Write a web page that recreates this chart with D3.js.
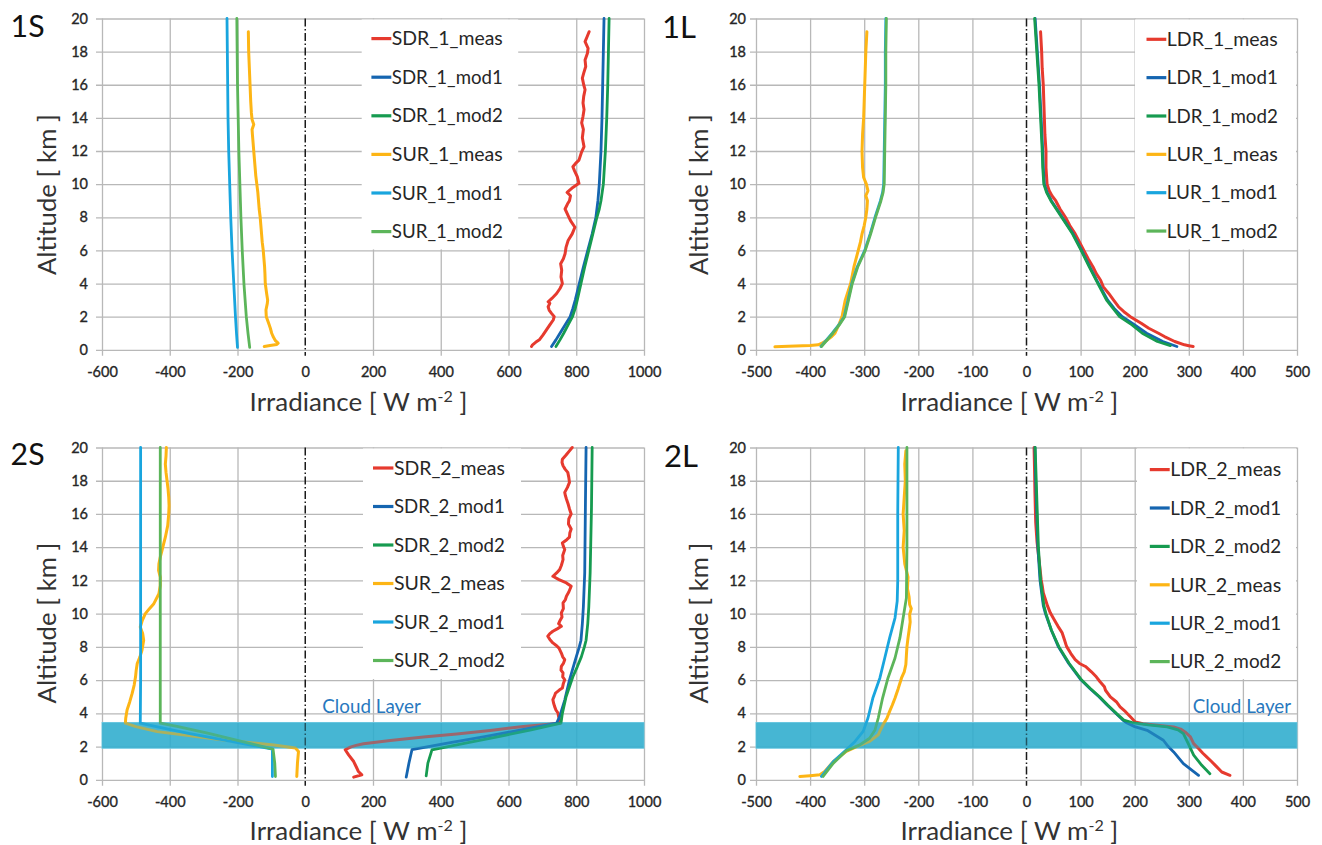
<!DOCTYPE html>
<html><head><meta charset="utf-8">
<script src="https://cdn.jsdelivr.net/npm/d3@7"></script>
<style>
body{margin:0;background:#fff;}
svg{display:block;font-family:Lato,'Noto Sans',sans-serif;}
</style></head><body>
<svg id="chart" width="1322" height="845"></svg>
<script>
// ---------- tick values ----------
const altitudeTicks = [0,2,4,6,8,10,12,14,16,18,20];
const swTicks = [-600,-400,-200,0,200,400,600,800,1000];
const lwTicks = [-500,-400,-300,-200,-100,0,100,200,300,400,500];

// ---------- series names ----------
const names1S = ["SDR_1_meas","SDR_1_mod1","SDR_1_mod2","SUR_1_meas","SUR_1_mod1","SUR_1_mod2"];
const names1L = ["LDR_1_meas","LDR_1_mod1","LDR_1_mod2","LUR_1_meas","LUR_1_mod1","LUR_1_mod2"];
const names2S = ["SDR_2_meas","SDR_2_mod1","SDR_2_mod2","SUR_2_meas","SUR_2_mod1","SUR_2_mod2"];
const names2L = ["LDR_2_meas","LDR_2_mod1","LDR_2_mod2","LUR_2_meas","LUR_2_mod1","LUR_2_mod2"];
const seriesColors = ["#e63a2e","#1565b0","#169b50","#fdb515","#19a5de","#5cb55a"];

// ---------- data: [altitude km, irradiance W m-2] ----------
// Panel 1S
const sdr1Meas = [[0.2,668],[0.3,671],[0.45,680],[0.6,691],[0.9,702],[1.2,712],[1.5,722],[1.8,732],[2.0,735],[2.2,727],[2.4,720],[2.6,717],[2.8,722],[2.9,717],[3.1,728],[3.4,742],[3.7,752],[4.0,759],[4.4,755],[4.8,757],[5.2,754],[5.5,762],[5.8,767],[6.2,770],[6.6,776],[7.0,788],[7.4,796],[7.8,783],[8.1,776],[8.5,767],[8.8,774],[9.0,780],[9.3,783],[9.5,773],[9.8,790],[10.05,808],[10.45,803],[10.8,795],[11.05,790],[11.25,798],[11.45,808],[11.9,815],[12.26,823],[12.8,818],[13.3,821],[13.7,816],[14.1,820],[14.5,823],[14.9,820],[15.3,822],[15.7,826],[16.0,822],[16.4,818],[16.7,822],[17.1,828],[17.5,826],[17.9,833],[18.2,835],[18.6,826],[18.9,832],[19.2,838]];
const sdr1Mod1 = [[0.2,727],[0.6,740],[1.0,752],[1.5,767],[2.0,782],[2.5,790],[3.0,797],[4.0,809],[5.0,821],[6.0,834],[7.0,847],[8.0,858],[9.0,864],[10.0,868],[12.0,873],[14.0,876],[16.0,878],[18.0,880],[20.0,882]];
const sdr1Mod2 = [[0.2,740],[0.6,752],[1.0,763],[1.5,776],[2.0,789],[2.5,797],[3.0,803],[4.0,814],[5.0,825],[6.0,837],[7.0,849],[8.0,861],[8.5,868],[9.0,873],[10.0,880],[12.0,886],[14.0,890],[16.0,893],[18.0,895],[20.0,897]];
const sur1Meas = [[0.2,-121],[0.26,-104],[0.32,-84],[0.4,-80],[0.55,-88],[0.8,-95],[1.0,-99],[1.3,-103],[1.6,-108],[2.0,-115],[2.4,-116],[2.8,-112],[3.0,-111],[3.4,-114],[4.0,-118],[4.6,-119],[5.0,-120],[5.5,-122],[6.0,-124],[6.5,-127],[7.0,-129],[7.5,-131],[8.0,-133],[8.5,-136],[9.0,-138],[9.5,-140],[10.0,-143],[10.5,-146],[11.0,-148],[11.5,-150],[12.0,-152],[12.5,-154],[13.0,-156],[13.3,-157],[13.6,-152],[13.9,-157],[14.3,-159],[15.0,-161],[16.0,-163],[17.0,-165],[18.0,-167],[19.2,-168]];
const sur1Mod1 = [[0.15,-200],[1,-203],[2,-206],[4,-211],[6,-216],[8,-220],[10,-223],[12,-226],[14,-228],[16,-229],[18,-230],[20,-231]];
const sur1Mod2 = [[0.15,-164],[1,-169],[2,-174],[4,-181],[6,-186],[8,-190],[10,-193],[12,-196],[14,-198],[16,-200],[18,-201],[20,-202]];

// Panel 1L
const ldr1Meas = [[0.2,308],[0.25,300],[0.3,292],[0.5,274],[0.8,255],[1.0,244],[1.3,226],[1.6,212],[2.0,192],[2.3,180],[2.6,170],[3.0,161],[3.4,152],[3.8,142],[4.2,137],[4.6,129],[5.0,123],[5.5,114],[6.0,106],[6.5,98],[7.0,90],[7.5,80],[8.0,72],[8.5,62],[9.0,54],[9.3,47],[9.6,42],[10.0,38],[10.5,37],[11,36],[12,36],[13,34],[14,33],[15,32],[16,31],[17,29],[18,28],[19.2,26]];
const ldr1Mod1 = [[0.2,278],[0.5,252],[1.0,222],[1.5,200],[2.0,177],[2.5,162],[3.0,150],[4.0,133],[5.0,117],[6.0,102],[7.0,86],[8.0,66],[9.0,46],[9.5,38],[10.0,33],[11,31],[12,30],[14,27],[16,24],[18,20],[20,16]];
const ldr1Mod2 = [[0.25,266],[0.5,242],[1.0,214],[1.5,195],[2.0,172],[2.5,160],[3.0,148],[4.0,132],[5.0,116],[6.0,101],[7.0,85],[8.0,65],[9.0,45],[9.5,37],[10.0,32],[11,30],[12,29],[14,26],[16,23],[18,19],[20,15]];
const lur1Meas = [[0.18,-465],[0.22,-440],[0.26,-400],[0.3,-385],[0.4,-378],[0.6,-368],[0.8,-360],[1.0,-354],[1.5,-347],[2.0,-341],[2.5,-338],[3.0,-335],[3.5,-330],[4.0,-325],[4.5,-322],[5.0,-319],[5.5,-315],[6.0,-311],[6.5,-307],[7.0,-304],[7.5,-300],[8.0,-297],[8.5,-295],[9.0,-294],[9.3,-297],[9.6,-293],[10.0,-296],[10.4,-301],[11.0,-303],[12.0,-304],[13.0,-303],[14.0,-301],[15.0,-300],[16.0,-299],[17.0,-298],[18.0,-297],[19.2,-295]];
const lur1Mod1 = [[0.2,-380],[0.5,-372],[1.0,-359],[1.5,-347],[2.0,-337],[3.0,-330],[4.0,-323],[5.0,-313],[6.0,-299],[7.0,-289],[8.0,-280],[9.0,-270],[9.5,-266],[10.0,-264],[12,-263],[14,-262],[16,-261],[18,-261],[20,-260]];
const lur1Mod2 = [[0.2,-379],[0.5,-371],[1.0,-358],[1.5,-346],[2.0,-336],[3.0,-329],[4.0,-322],[5.0,-312],[6.0,-298],[7.0,-288],[8.0,-279],[9.0,-269],[9.5,-265],[10.0,-263],[12,-262],[14,-261],[16,-260],[18,-260],[20,-259]];

// Panel 2S
const sdr2Meas = [[0.16,143],[0.3,167],[0.5,157],[0.8,150],[1.1,143],[1.5,128],[1.81,118],[1.97,133],[2.07,150],[2.17,172],[2.37,251],[2.57,349],[2.75,447],[2.97,546],[3.21,644],[3.35,720],[3.41,752],[3.61,751],[3.8,748],[4.02,746],[4.2,740],[4.42,736],[4.62,733],[4.82,731],[5.0,735],[5.22,739],[5.4,750],[5.52,759],[5.8,762],[6.02,766],[6.2,760],[6.43,761],[6.6,755],[6.83,756],[7.0,762],[7.23,766],[7.4,760],[7.63,756],[7.93,749],[8.1,740],[8.24,731],[8.45,722],[8.64,716],[8.8,722],[8.94,731],[9.1,745],[9.24,756],[9.4,748],[9.54,751],[9.8,758],[10.04,756],[10.3,762],[10.65,761],[10.85,768],[11.05,771],[11.3,778],[11.65,785],[11.85,771],[12.05,749],[12.25,731],[12.45,742],[12.65,751],[12.9,756],[13.25,761],[13.5,760],[13.86,766],[14.05,762],[14.25,759],[14.45,772],[14.6,780],[14.85,781],[15.1,785],[15.4,777],[15.7,778],[16.0,785],[16.3,780],[16.6,776],[16.9,771],[17.1,768],[17.3,766],[17.6,774],[17.9,780],[18.2,778],[18.5,775],[18.7,767],[18.9,761],[19.1,758],[19.3,759],[19.55,770],[19.8,780],[20,788]];
const sdr2Mod1 = [[0.16,298],[1.0,306],[1.81,315],[2.2,420],[2.6,530],[3.0,637],[3.41,742],[3.8,751],[4.8,766],[6.0,780],[6.7,790],[7.4,800],[8.0,809],[8.4,814],[9.4,818],[10.4,821],[12.45,825],[16.4,827],[20,829]];
const sdr2Mod2 = [[0.24,357],[1.0,362],[1.8,374],[2.2,473],[2.6,571],[3.0,667],[3.41,755],[4.0,759],[5.0,770],[6.2,790],[6.8,803],[7.4,815],[8.0,824],[8.4,829],[9.4,834],[10.4,837],[12.45,841],[16.4,845],[20,847]];
const sur2Meas = [[0.2,-25],[1.0,-23],[1.7,-20],[1.91,-29],[2.1,-93],[2.4,-241],[2.9,-437],[3.2,-500],[3.41,-531],[3.7,-530],[4.2,-526],[4.7,-518],[5.2,-511],[5.7,-505],[6.2,-501],[6.6,-499],[7.0,-496],[7.4,-488],[7.8,-482],[8.4,-477],[8.8,-480],[9.2,-487],[9.6,-481],[10.0,-472],[10.3,-460],[10.6,-447],[11.2,-432],[11.7,-428],[12.2,-428],[12.6,-433],[13.0,-432],[13.4,-428],[13.8,-423],[14.2,-418],[14.6,-413],[15.3,-406],[16.0,-403],[16.5,-402],[17.0,-403],[17.5,-405],[18.0,-408],[18.5,-411],[19.0,-413],[19.5,-411],[20,-410]];
const sur2Mod1 = [[0.2,-97],[1.0,-97],[1.85,-97],[2.3,-215],[2.8,-345],[3.2,-440],[3.41,-487],[6,-486],[10,-486],[14,-486],[20,-486]];
const sur2Mod2 = [[0.2,-88],[1.0,-90],[1.85,-95],[2.3,-185],[2.8,-285],[3.2,-375],[3.41,-428],[10,-428],[20,-428]];

// Panel 2L
const ldr2Meas = [[0.27,376],[0.47,361],[0.87,349],[1.1,342],[1.38,333],[1.6,326],[1.88,318],[2.18,309],[2.58,303],[2.88,293],[3.05,285],[3.18,272],[3.28,241],[3.38,215],[3.48,201],[3.79,192],[4.1,183],[4.39,173],[4.7,166],[4.99,155],[5.39,146],[5.6,144],[5.9,136],[6.2,129],[6.5,120],[6.82,109],[7.0,98],[7.23,90],[7.6,82],[8.03,74],[8.44,70],[8.84,66],[9.25,58],[9.65,51],[10.05,44],[10.45,39],[10.85,35],[11.26,31],[11.7,29],[12.07,27],[13,24],[14.3,19.5],[15.5,17],[17.3,15.6],[18.5,15],[20,14]];
const ldr2Mod1 = [[0.27,318],[0.97,290],[1.68,272],[2.0,262],[2.38,253],[2.98,223],[3.2,200],[3.42,186],[3.6,178],[4.0,165],[4.5,149],[5.0,134],[5.5,117],[6.0,101],[7.0,78],[8.0,59],[9.0,46],[10.0,35],[10.5,31],[11,29],[12,25],[14,21],[16,19],[18,17],[20,15.6]];
const ldr2Mod2 = [[0.37,339],[0.87,324],[1.48,309],[2.18,299],[2.78,290],[3.0,280],[3.18,260],[3.3,225],[3.42,198],[3.59,180],[4.0,166],[4.5,150],[5.0,135],[5.5,118],[6.0,102],[7.0,79],[8.0,60],[9.0,46],[10.0,36],[10.5,32],[11,30],[12,26],[14,22],[16,20],[18,18],[20,16]];
const lur2Meas = [[0.2,-419],[0.25,-400],[0.3,-382],[0.5,-373],[1.1,-357],[1.71,-333],[2.0,-314],[2.31,-290],[2.71,-274],[3.0,-270],[3.32,-265],[3.7,-258],[4.12,-253],[4.5,-248],[4.92,-243],[5.5,-237],[6.13,-231],[6.5,-226],[6.94,-223],[7.5,-222],[8.0,-221],[8.54,-219],[9.0,-217],[9.5,-215],[9.95,-216],[10.3,-213],[10.55,-216],[11,-217],[11.5,-220],[12.2,-219],[13,-225],[14,-228],[15,-226],[16,-228],[17,-226],[18,-224],[19,-225],[19.8,-223]];
const lur2Mod1 = [[0.2,-379],[1.1,-357],[1.81,-333],[2.31,-317],[2.91,-302],[3.72,-293],[4.92,-284],[6.13,-271],[7.33,-262],[8.54,-253],[9.75,-243],[10.75,-239],[12,-238],[16,-238],[20,-237]];
const lur2Mod2 = [[0.2,-376],[1.0,-357],[1.75,-333],[2.1,-308],[2.5,-290],[3.0,-280],[3.72,-274],[4.92,-266],[6.13,-256],[7.33,-243],[8.54,-234],[9.75,-228],[10.95,-222],[14,-221],[20,-221]];

// cloud layer altitudes (km)
const cloudLayer = [1.9, 3.45];

// ---------- layout ----------
const panels = [
  {tag:"1S", xDomain:[-600,1000], xTicks:swTicks, names:names1S,
   series:[sdr1Meas,sdr1Mod1,sdr1Mod2,sur1Meas,sur1Mod1,sur1Mod2], cloud:false,
   box:{left:102,right:644,top:18.5,bottom:349.8}, labelPad:8,
   legend:{x0:361.7,x1:518.2,line0:371.4,line1:391.3,row0:38.6,step:38.6},
   tagPos:[10.6,37], xTitle:[358.5,411], yTitle:[56,194.6]},
  {tag:"1L", xDomain:[-500,500], xTicks:lwTicks, names:names1L,
   series:[ldr1Meas,ldr1Mod1,ldr1Mod2,lur1Meas,lur1Mod1,lur1Mod2], cloud:false,
   box:{left:756,right:1297,top:18.5,bottom:349.8}, labelPad:4,
   legend:{x0:1135,x1:1296,line0:1146.5,line1:1166.3,row0:39.3,step:38.35},
   tagPos:[662,37.6], xTitle:[1009.4,411], yTitle:[708,194.6]},
  {tag:"2S", xDomain:[-600,1000], xTicks:swTicks, names:names2S,
   series:[sdr2Meas,sdr2Mod1,sdr2Mod2,sur2Meas,sur2Mod1,sur2Mod2], cloud:true, cloudText:[322.3,713.3],
   box:{left:102,right:644,top:447.5,bottom:779.8}, labelPad:8,
   legend:{x0:363,x1:521,line0:373,line1:393.4,row0:468,step:38.5},
   tagPos:[10.6,465.3], xTitle:[358.5,840], yTitle:[56,623]},
  {tag:"2L", xDomain:[-500,500], xTicks:lwTicks, names:names2L,
   series:[ldr2Meas,ldr2Mod1,ldr2Mod2,lur2Meas,lur2Mod1,lur2Mod2], cloud:true, cloudText:[1192.7,712.7],
   box:{left:756,right:1297,top:447.5,bottom:779.8}, labelPad:4,
   legend:{x0:1137,x1:1296,line0:1149.8,line1:1169.7,row0:469.6,step:38.4},
   tagPos:[664,467], xTitle:[1009.4,840], yTitle:[708,623]}
];

const svg = d3.select("#chart");
const gridColor = "#b8b8b8";
const TL = 6;
const bandColor = "rgb(45,173,206)";

function fitWidth(sel, target){
  const w = sel.node().getComputedTextLength();
  const fs = parseFloat(sel.attr("font-size"));
  if (w > 0) sel.attr("font-size", fs * target / w);
  return sel;
}

function styleTicks(sel){
  sel.attr("font-size",14.5).attr("fill","#262626").attr("font-family","Lato")
    .attr("stroke","#262626").attr("stroke-width",0.35);
}

function drawPanel(p){
  const b = p.box;
  const x = d3.scaleLinear().domain(p.xDomain).range([b.left, b.right]);
  const y = d3.scaleLinear().domain([0,20]).range([b.bottom, b.top]);
  const g = svg.append("g");

  // vertical grid + x tick labels
  const xa = g.append("g").attr("transform", `translate(0,${b.bottom+TL})`)
    .call(d3.axisBottom(x).tickValues(p.xTicks).tickSize(-(b.bottom-b.top+TL)).tickPadding(11).tickFormat(d=>String(d)));
  xa.select(".domain").remove();
  xa.selectAll(".tick line").attr("stroke", d => d===0 ? "none" : gridColor).attr("stroke-width",1.3);
  styleTicks(xa.selectAll(".tick text"));

  // horizontal grid + y tick labels
  const ya = g.append("g").attr("transform", `translate(${b.left-TL},0)`)
    .call(d3.axisLeft(y).tickValues(altitudeTicks).tickSize(-(b.right-b.left+TL)).tickPadding(p.labelPad).tickFormat(d=>String(d)));
  ya.select(".domain").remove();
  ya.selectAll(".tick line").attr("stroke", gridColor).attr("stroke-width",1.3);
  styleTicks(ya.selectAll(".tick text"));

  // legend background (covers gridlines)
  const L = p.legend;
  g.append("rect").attr("x",L.x0).attr("y",b.top+1).attr("width",L.x1-L.x0).attr("height",y(6)-1-(b.top+1)).attr("fill","#fff");

  // cloud band base
  if (p.cloud){
    g.append("rect").attr("x",b.left).attr("width",b.right-b.left)
      .attr("y",y(cloudLayer[1])).attr("height",y(cloudLayer[0])-y(cloudLayer[1]))
      .attr("fill",bandColor).attr("fill-opacity",0.8)
      .attr("stroke","rgb(120,205,228)").attr("stroke-width",1);
  }

  // zero line (dash-dot)
  g.append("line").attr("x1",x(0)).attr("x2",x(0)).attr("y1",b.top).attr("y2",b.bottom+TL)
    .attr("stroke","#1a1a1a").attr("stroke-width",1.5).attr("stroke-dasharray","8,2.5,1.5,2.5");

  // series lines
  const line = d3.line().x(d=>x(d[1])).y(d=>y(d[0])).curve(d3.curveLinear);
  p.series.forEach((s,i)=>{
    g.append("path").datum(s).attr("d",line).attr("fill","none")
      .attr("stroke",seriesColors[i]).attr("stroke-width", (i===0||i===3)?3:2.8)
      .attr("stroke-linejoin","round").attr("stroke-linecap","round");
  });

  // cloud band overlay (tints lines inside band)
  if (p.cloud){
    g.append("rect").attr("x",b.left).attr("width",b.right-b.left)
      .attr("y",y(cloudLayer[1])).attr("height",y(cloudLayer[0])-y(cloudLayer[1]))
      .attr("fill",bandColor).attr("fill-opacity",0.4);
    const ct = g.append("text").attr("x",p.cloudText[0]).attr("y",p.cloudText[1])
      .attr("font-size",17).attr("fill","#2878be").attr("font-family","Lato").text("Cloud Layer");
    fitWidth(ct, 98.5);
  }

  // legend items
  p.names.forEach((n,i)=>{
    const yy = L.row0 + i*L.step;
    g.append("line").attr("x1",L.line0).attr("x2",L.line1).attr("y1",yy).attr("y2",yy)
      .attr("stroke",seriesColors[i]).attr("stroke-width",3.2);
    const t = g.append("text").attr("x",L.line1+0.5).attr("y",yy).attr("dy","0.35em")
      .attr("font-size",20).attr("fill","#262626").attr("font-family","Lato").text(n);
    fitWidth(t, 111);
  });

  // panel tag
  const tg = g.append("text").attr("x",p.tagPos[0]).attr("y",p.tagPos[1]).attr("font-size",34)
    .attr("fill","#111").attr("font-family","Lato").text(p.tag);
  fitWidth(tg, 34);

  // x title
  const xt = g.append("text").attr("x",p.xTitle[0]).attr("y",p.xTitle[1]).attr("text-anchor","middle")
    .attr("font-size",25).attr("fill","#333").attr("font-family","Lato");
  xt.append("tspan").text("Irradiance [ W m");
  xt.append("tspan").attr("baseline-shift","super").style("font-size","0.62em").text("-2");
  xt.append("tspan").text(" ]");
  fitWidth(xt, 218);

  // y title
  const yt = g.append("text").attr("transform",`translate(${p.yTitle[0]},${p.yTitle[1]}) rotate(-90)`)
    .attr("text-anchor","middle").attr("font-size",25).attr("fill","#333").attr("font-family","Lato")
    .text("Altitude [ km ]");
  fitWidth(yt, 161);
}

panels.forEach(drawPanel);
</script>
</body></html>
